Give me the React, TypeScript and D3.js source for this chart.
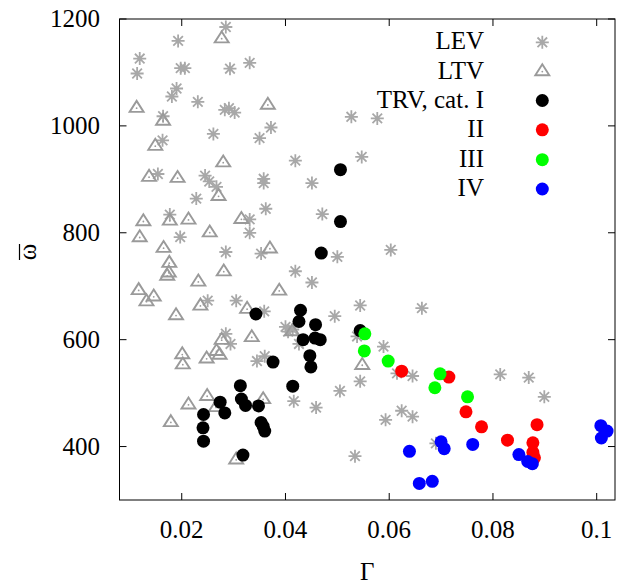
import React from "react";
import * as d3 from "d3";

// ---- data (Gamma, omega-bar) ----
const levX = [0.0285,0.0193,0.0119,0.0114,0.0198,0.0206,0.0293,0.0331,0.0190,0.0181,0.0231,0.0164,0.0283,0.0291,0.0302,0.0261,0.0372,0.0350,0.0163,0.0419,0.0154,0.0245,0.0253,0.0267,0.0358,0.0358,0.0451,0.0228,0.0362,0.0177,0.0331,0.0331,0.0197,0.0285,0.0353,0.0419,0.0451,0.0250,0.0305,0.0359,0.0285,0.0294,0.0400,0.0405,0.0414,0.0426,0.0345,0.0360,0.0416,0.0459,0.0471,0.0500,0.0527,0.0577,0.0547,0.0603,0.0495,0.0544,0.0663,0.0538,0.0589,0.0615,0.0645,0.0544,0.0505,0.0593,0.0624,0.0645,0.0690,0.0534,0.0814,0.0869,0.0899];
const levY = [1185,1159,1126,1098,1108,1108,1107,1118,1070,1055,1045,1018,1030,1033,1025,985,997,977,973,935,910,907,896,886,901,893,893,864,845,834,825,800,792,764,761,728,707,673,673,653,611,592,624,615,619,592,560,569,485,473,835,755,1017,1014,942,768,644,664,659,606,587,537,532,522,504,450,467,456,406,382,535,529,493];

const ltvX = [0.0277,0.0113,0.0366,0.0164,0.0149,0.0280,0.0137,0.0192,0.0271,0.0126,0.0177,0.0213,0.0315,0.0119,0.0254,0.0165,0.0370,0.0176,0.0175,0.0172,0.0281,0.0232,0.0117,0.0146,0.0132,0.0388,0.0189,0.0236,0.0326,0.0201,0.0202,0.0248,0.0267,0.0273,0.0277,0.0335,0.0413,0.0249,0.0213,0.0266,0.0357,0.0179,0.0305,0.0548];
const ltvY = [1165,1035,1041,1011,964,933,906,904,870,823,824,826,827,793,802,773,772,745,727,721,729,710,694,682,673,693,647,665,659,574,555,566,580,573,601,606,617,496,480,475,490,447,377,554];

const cat1X = [0.0506,0.0506,0.0469,0.0343,0.0429,0.0426,0.0458,0.0434,0.0457,0.0467,0.0447,0.0449,0.0376,0.0414,0.0544,0.0242,0.0241,0.0242,0.0274,0.0283,0.0313,0.0315,0.0323,0.0318,0.0348,0.0353,0.0357,0.0360];
const cat1Y = [918,821,762,648,655,634,628,600,603,600,570,549,558,513,617,460,435,410,483,463,514,489,477,384,476,445,438,429];

const cat2X = [0.0624,0.0715,0.0748,0.0778,0.0828,0.0885,0.0877,0.0877,0.0880];
const cat2Y = [541,530,465,437,412,441,407,389,379];

const cat3X = [0.0553,0.0552,0.0598,0.0698,0.0688,0.0751];
const cat3Y = [611,579,560,536,510,493];

const cat4X = [0.0639,0.0700,0.0706,0.0761,0.0658,0.0683,0.0850,0.0867,0.0876,0.1008,0.1020,0.1009];
const cat4Y = [391,409,396,404,331,335,385,372,368,439,429,416];

const xTicks = [0.02, 0.04, 0.06, 0.08, 0.1];
const xTickLabels = ["0.02", "0.04", "0.06", "0.08", "0.1"];
const yTicks = [400, 600, 800, 1000, 1200];
const yTickLabels = ["400", "600", "800", "1000", "1200"];

const legendLabels = ["LEV", "LTV", "TRV, cat. I", "II", "III", "IV"];

const W = 621, H = 585;
const L = 119.5, R = 615, T = 19, B = 500;
const FONT = "Liberation Serif, Tinos, Times New Roman, Times, serif";
const GRAY_AST = "#a8a8a8";
const GRAY_TRI = "#9a9a9a";

const asteriskPath = "M-6.5,0L6.5,0M0,-6.5L0,6.5M-4.8,-4.8L4.8,4.8M-4.8,4.8L4.8,-4.8";
const trianglePath = "M0,-6.3L7,4.7L-7,4.7Z";

const txt = { fontFamily: FONT, fontSize: "25px" } as React.CSSProperties;

function Asterisk({ x, y }: { x: number; y: number }) {
  return <path d={asteriskPath} transform={`translate(${x},${y})`} stroke={GRAY_AST} strokeWidth={1.8} fill="none" />;
}
function Triangle({ x, y }: { x: number; y: number }) {
  return (
    <g transform={`translate(${x},${y})`}>
      <path d={trianglePath} stroke={GRAY_TRI} strokeWidth={1.9} fill="none" strokeLinejoin="miter" />
      <circle cx={0} cy={1} r={0.9} fill={GRAY_TRI} />
    </g>
  );
}

export default function App() {
  const x = d3.scaleLinear().domain([0.008, 0.10353]).range([L, R]);
  const y = d3.scaleLinear().domain([300, 1200]).range([B, T]);

  const dots = (xs: number[], ys: number[], color: string, key: string) =>
    xs.map((v, i) => <circle key={key + i} cx={x(v)} cy={y(ys[i])} r={6.5} fill={color} />);

  const tickLen = 7;
  const legendX = 484;
  const legendSymX = 542.3;
  const legendBase = [49.3, 78.6, 108, 137.3, 166.7, 196];

  return (
    <svg width={W} height={H} style={{ position: "absolute", left: 0, top: 0, background: "#fff" }}>
      <rect x={0} y={0} width={W} height={H} fill="#fff" />
      {/* series */}
      {levX.map((v, i) => <Asterisk key={"lev" + i} x={x(v)} y={y(levY[i])} />)}
      {ltvX.map((v, i) => <Triangle key={"ltv" + i} x={x(v)} y={y(ltvY[i])} />)}
      {dots(cat1X, cat1Y, "#000000", "c1")}
      {dots(cat2X, cat2Y, "#ff0000", "c2")}
      {dots(cat3X, cat3Y, "#00ff00", "c3")}
      {dots(cat4X, cat4Y, "#0000ff", "c4")}

      {/* frame */}
      <rect x={L} y={T} width={R - L} height={B - T} fill="none" stroke="#000" strokeWidth={1} />
      {xTicks.map((t, i) => (
        <g key={"xt" + i}>
          <line x1={x(t)} x2={x(t)} y1={B} y2={B - tickLen} stroke="#000" />
          <line x1={x(t)} x2={x(t)} y1={T} y2={T + tickLen} stroke="#000" />
          <text x={x(t)} y={538} style={txt} textAnchor="middle" fill="#000">{xTickLabels[i]}</text>
        </g>
      ))}
      {yTicks.map((t, i) => (
        <g key={"yt" + i}>
          <line x1={L} x2={L + tickLen} y1={y(t)} y2={y(t)} stroke="#000" />
          <line x1={R} x2={R - tickLen} y1={y(t)} y2={y(t)} stroke="#000" />
          <text x={100} y={y(t) + 8} style={txt} textAnchor="end" fill="#000">{yTickLabels[i]}</text>
        </g>
      ))}

      {/* axis titles */}
      <text x={(L + R) / 2} y={580} style={txt} textAnchor="middle" fill="#000">Γ</text>
      <g transform="translate(36,252) rotate(-90)">
        <text x={0} y={0} style={txt} textAnchor="middle" fill="#000">ω</text>
        <line x1={-8} x2={8} y1={-16.5} y2={-16.5} stroke="#000" strokeWidth={1.2} />
      </g>

      {/* legend */}
      {legendLabels.map((lab, i) => (
        <text key={"lg" + i} x={legendX} y={legendBase[i]} style={txt} textAnchor="end" fill="#000">{lab}</text>
      ))}
      <Asterisk x={legendSymX} y={legendBase[0] - 7} />
      <Triangle x={legendSymX} y={legendBase[1] - 8} />
      <circle cx={legendSymX} cy={legendBase[2] - 7.5} r={6.5} fill="#000000" />
      <circle cx={legendSymX} cy={legendBase[3] - 7.5} r={6.5} fill="#ff0000" />
      <circle cx={legendSymX} cy={legendBase[4] - 7} r={6.5} fill="#00ff00" />
      <circle cx={legendSymX} cy={legendBase[5] - 7} r={6.5} fill="#0000ff" />
    </svg>
  );
}
